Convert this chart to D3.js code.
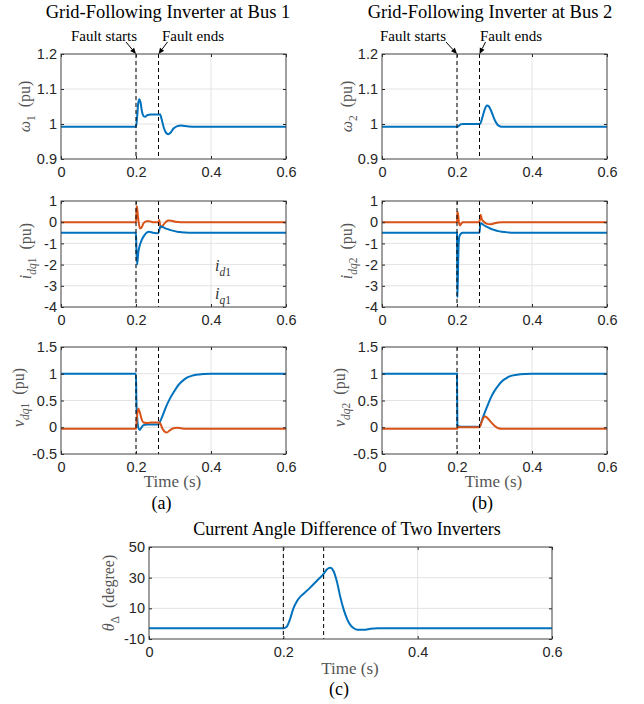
<!DOCTYPE html>
<html><head><meta charset="utf-8">
<script src="https://cdn.jsdelivr.net/npm/d3@7"></script>
<style>body{margin:0;background:#fff}</style>
</head><body>
<script>
// ---- time axis and fault instants ----
const timeTicks = [0, 0.2, 0.4, 0.6];
const faultStart = 0.2;
const faultEnd = 0.26;

// ---- y tick values ----
const omegaTicks = [0.9, 1, 1.1, 1.2];
const currentTicks = [-4, -3, -2, -1, 0, 1];
const voltageTicks = [-0.5, 0, 0.5, 1, 1.5];
const angleTicks = [-10, 10, 30, 50];

// ---- series: [time (s), value] ----
const omega1 = [[0,0.992],[0.2,0.992],[0.203,1.02],[0.206,1.06],[0.209,1.071],[0.212,1.062],[0.216,1.035],[0.22,1.023],[0.225,1.021],[0.23,1.025],[0.24,1.027],[0.25,1.027],[0.26,1.027],[0.264,1.028],[0.268,1.015],[0.274,0.99],[0.28,0.975],[0.286,0.971],[0.292,0.975],[0.3,0.987],[0.31,0.994],[0.32,0.996],[0.33,0.994],[0.35,0.992],[0.6,0.992]];
const omega2 = [[0,0.992],[0.2,0.992],[0.205,0.995],[0.21,0.999],[0.215,1.0],[0.26,1.0],[0.263,1.003],[0.268,1.02],[0.274,1.042],[0.28,1.053],[0.285,1.05],[0.29,1.04],[0.3,1.013],[0.31,0.996],[0.32,0.992],[0.6,0.992]];

const id1 = [[0,-0.5],[0.2,-0.5],[0.201,-1.2],[0.203,-2.0],[0.206,-1.45],[0.21,-1.1],[0.215,-0.85],[0.22,-0.68],[0.228,-0.5],[0.235,-0.45],[0.245,-0.5],[0.255,-0.52],[0.26,-0.5],[0.265,-0.2],[0.27,-0.22],[0.28,-0.3],[0.29,-0.36],[0.3,-0.41],[0.31,-0.45],[0.32,-0.47],[0.34,-0.495],[0.36,-0.5],[0.6,-0.5]];
const iq1 = [[0,0],[0.2,0],[0.201,0.4],[0.202,0.75],[0.204,0.5],[0.207,0],[0.211,-0.3],[0.215,-0.25],[0.22,-0.05],[0.228,0.05],[0.235,0.05],[0.245,0.0],[0.26,0.0],[0.262,0.1],[0.264,-0.1],[0.267,-0.25],[0.272,-0.15],[0.28,0.02],[0.287,0.08],[0.295,0.07],[0.305,0.02],[0.32,0],[0.6,0]];
const id2 = [[0,-0.5],[0.2,-0.5],[0.2005,-2.0],[0.201,-3.55],[0.2025,-2.5],[0.204,-1.2],[0.206,-0.7],[0.21,-0.55],[0.215,-0.5],[0.26,-0.5],[0.262,-0.1],[0.264,-0.05],[0.27,-0.12],[0.28,-0.22],[0.29,-0.31],[0.3,-0.37],[0.31,-0.42],[0.32,-0.45],[0.335,-0.48],[0.35,-0.5],[0.6,-0.5]];
const iq2 = [[0,0],[0.2,0],[0.2005,0.2],[0.201,0.48],[0.203,0.35],[0.205,0],[0.208,-0.15],[0.212,-0.05],[0.216,0],[0.26,0],[0.261,0.15],[0.263,0.35],[0.266,0.15],[0.27,0.05],[0.28,-0.08],[0.288,-0.1],[0.3,-0.05],[0.31,-0.01],[0.32,0],[0.6,0]];

const vd1 = [[0,1],[0.2,1],[0.201,0.5],[0.203,0.2],[0.206,0.0],[0.21,-0.05],[0.215,0.0],[0.22,0.04],[0.23,0.05],[0.26,0.05],[0.265,0.12],[0.27,0.2],[0.28,0.38],[0.29,0.53],[0.3,0.65],[0.31,0.76],[0.32,0.84],[0.33,0.9],[0.34,0.94],[0.35,0.965],[0.36,0.98],[0.38,0.995],[0.4,1.0],[0.6,1.0]];
const vq1 = [[0,-0.03],[0.2,-0.03],[0.202,0.15],[0.206,0.35],[0.21,0.28],[0.215,0.15],[0.22,0.09],[0.23,0.08],[0.24,0.09],[0.26,0.09],[0.264,0.08],[0.27,-0.02],[0.276,-0.08],[0.282,-0.1],[0.29,-0.06],[0.3,-0.02],[0.31,-0.01],[0.32,-0.02],[0.33,-0.03],[0.6,-0.03]];
const vd2 = [[0,1],[0.2,1],[0.2005,0.5],[0.201,0.05],[0.203,0.02],[0.21,0.01],[0.26,0.01],[0.265,0.1],[0.27,0.2],[0.28,0.38],[0.29,0.55],[0.3,0.68],[0.31,0.78],[0.32,0.86],[0.33,0.91],[0.34,0.95],[0.36,0.98],[0.38,0.995],[0.4,1.0],[0.6,1.0]];
const vq2 = [[0,-0.03],[0.2,-0.03],[0.203,0.0],[0.26,0.0],[0.265,0.08],[0.27,0.17],[0.275,0.2],[0.28,0.18],[0.29,0.1],[0.3,0.03],[0.31,-0.02],[0.32,-0.03],[0.6,-0.03]];

const thetaDelta = [[0,-3],[0.2,-3],[0.205,-2],[0.21,3],[0.215,10],[0.22,14.5],[0.225,17.5],[0.23,19.5],[0.24,23.5],[0.25,28],[0.26,32.5],[0.265,35.5],[0.27,36.5],[0.275,34],[0.28,27],[0.285,17],[0.29,9],[0.295,3],[0.3,-1],[0.305,-3],[0.31,-4],[0.32,-4],[0.33,-3.3],[0.34,-3],[0.6,-3]];

// ---- styling ----
const BLUE = "#0072BD", ORANGE = "#D95319";
const SANS = "'Liberation Sans', Arial, sans-serif";
const SERIF = "'Liberation Serif', 'Times New Roman', serif";

const W = 644, H = 704;
const svg = d3.select("body").append("svg").attr("width", W).attr("height", H)
  .style("background", "#fff");

let clipId = 0;

// rich label: parts with italic / subscript flags
function richText(sel, parts, size) {
  let shift = 0;
  parts.forEach(p => {
    const target = p.sub ? size * 0.3 : 0;
    const ts = sel.append("tspan").text(p.t).attr("dy", target - shift);
    shift = target;
    if (p.italic) ts.attr("font-style", "italic");
    if (p.sub) ts.attr("font-size", (size * 0.72) + "px");
  });
}

function drawPanel(cfg) {
  const x = d3.scaleLinear().domain([0, 0.6]).range([cfg.x0, cfg.x1]);
  const y = d3.scaleLinear().domain(cfg.yDomain).range([cfg.y1, cfg.y0]);
  const g = svg.append("g");

  // grid
  g.append("g").selectAll("line.vg").data(timeTicks.slice(1, -1)).join("line")
    .attr("x1", d => x(d)).attr("x2", d => x(d)).attr("y1", cfg.y0).attr("y2", cfg.y1)
    .attr("stroke", "#e3e3e3").attr("stroke-width", 1);
  g.append("g").selectAll("line.hg").data(cfg.yTicks.slice(1, -1)).join("line")
    .attr("y1", d => y(d)).attr("y2", d => y(d)).attr("x1", cfg.x0).attr("x2", cfg.x1)
    .attr("stroke", "#e3e3e3").attr("stroke-width", 1);

  // curves
  const id = "clip" + (clipId++);
  g.append("clipPath").attr("id", id).append("rect")
    .attr("x", cfg.x0).attr("y", cfg.y0).attr("width", cfg.x1 - cfg.x0).attr("height", cfg.y1 - cfg.y0);
  const line = d3.line().x(d => x(d[0])).y(d => y(d[1])).curve(d3.curveMonotoneX);
  cfg.series.forEach(s => {
    g.append("path").datum(s.data).attr("d", line).attr("fill", "none")
      .attr("stroke", s.color).attr("stroke-width", 2).attr("clip-path", `url(#${id})`);
  });

  // fault instants
  g.selectAll("line.fault").data([faultStart, faultEnd]).join("line")
    .attr("x1", d => x(d)).attr("x2", d => x(d)).attr("y1", cfg.y0).attr("y2", cfg.y1)
    .attr("stroke", "#000").attr("stroke-width", 1).attr("stroke-dasharray", "4,3");

  // axes (inward ticks, mirrored on top/right)
  const fmt = d => String(d);
  const axStyle = a => {
    a.selectAll("path").remove();
    a.selectAll("line").attr("stroke", "#262626");
    a.selectAll("text").attr("font-family", SANS).attr("font-size", "14.5px").attr("fill", "#262626");
  };
  g.append("g").attr("transform", `translate(0,${cfg.y1})`)
    .call(d3.axisBottom(x).tickValues(timeTicks).tickFormat(fmt).tickSizeInner(-3).tickSizeOuter(0).tickPadding(8))
    .call(axStyle);
  g.append("g").attr("transform", `translate(0,${cfg.y0})`)
    .call(d3.axisTop(x).tickValues(timeTicks).tickFormat("").tickSizeInner(-3).tickSizeOuter(0))
    .call(axStyle);
  g.append("g").attr("transform", `translate(${cfg.x0},0)`)
    .call(d3.axisLeft(y).tickValues(cfg.yTicks).tickFormat(fmt).tickSizeInner(-3).tickSizeOuter(0).tickPadding(4))
    .call(axStyle);
  g.append("g").attr("transform", `translate(${cfg.x1},0)`)
    .call(d3.axisRight(y).tickValues(cfg.yTicks).tickFormat("").tickSizeInner(-3).tickSizeOuter(0))
    .call(axStyle);
  g.append("rect").attr("x", cfg.x0).attr("y", cfg.y0)
    .attr("width", cfg.x1 - cfg.x0).attr("height", cfg.y1 - cfg.y0)
    .attr("fill", "none").attr("stroke", "#404040").attr("stroke-width", 1);

  // y label
  const lab = g.append("text")
    .attr("transform", `translate(${cfg.labelX},${(cfg.y0 + cfg.y1) / 2 + (cfg.labelDy || 0)}) rotate(-90)`)
    .attr("text-anchor", "middle").attr("font-family", SERIF).attr("font-size", "16px")
    .attr("fill", "#555");
  richText(lab, cfg.ylabel, 16);

  return { x, y, g };
}

function arrow(x1, y1, x2, y2) {
  const ang = Math.atan2(y2 - y1, x2 - x1);
  const L = 6, Wd = 2.6;
  const bx = x2 - L * Math.cos(ang), by = y2 - L * Math.sin(ang);
  svg.append("line").attr("x1", x1).attr("y1", y1).attr("x2", bx).attr("y2", by)
    .attr("stroke", "#000").attr("stroke-width", 1);
  const px = -Math.sin(ang) * Wd, py = Math.cos(ang) * Wd;
  svg.append("path")
    .attr("d", `M${x2},${y2}L${bx + px},${by + py}L${bx - px},${by - py}Z`).attr("fill", "#000");
}

function serifText(x, y, str, size, anchor, color) {
  return svg.append("text").attr("x", x).attr("y", y).attr("text-anchor", anchor || "middle")
    .attr("font-family", SERIF).attr("font-size", size + "px").attr("fill", color || "#000").text(str);
}

const cols = [
  { x0: 61, x1: 286, n: "1", title: "Grid-Following Inverter at Bus 1", titleX: 168, tag: "(a)",
    w: omega1, id: id1, iq: iq1, vd: vd1, vq: vq1, lab1: 30, lab2: 31, lab3: 24,
    startText: 104, endText: 193, startDx: -10, endDx: 9 },
  { x0: 382, x1: 607, n: "2", title: "Grid-Following Inverter at Bus 2", titleX: 490, tag: "(b)",
    w: omega2, id: id2, iq: iq2, vd: vd2, vq: vq2, lab1: 352, lab2: 352, lab3: 345,
    startText: 413, endText: 511, startDx: -11, endDx: 6 }
];

cols.forEach(c => {
  serifText(c.titleX, 18, c.title, 18.5);

  const p1 = drawPanel({ x0: c.x0, x1: c.x1, y0: 54, y1: 159, yDomain: [0.9, 1.2], yTicks: omegaTicks,
    series: [{ data: c.w, color: BLUE }], labelX: c.lab1,
    ylabel: [{ t: "ω", italic: true }, { t: c.n, sub: true }, { t: "\u2002(pu)" }] });

  // fault annotations
  serifText(c.startText, 41, "Fault starts", 15);
  serifText(c.endText, 41, "Fault ends", 15);
  const xs = p1.x(faultStart), xe = p1.x(faultEnd);
  arrow(xs + c.startDx, 42, xs, 54);
  arrow(xe + c.endDx, 42, xe, 54);

  drawPanel({ x0: c.x0, x1: c.x1, y0: 201, y1: 307, yDomain: [-4, 1], yTicks: currentTicks,
    series: [{ data: c.iq, color: ORANGE }, { data: c.id, color: BLUE }], labelX: c.lab2, labelDy: -3,
    ylabel: [{ t: "i", italic: true }, { t: "dq", sub: true, italic: true }, { t: c.n, sub: true }, { t: "\u2002(pu)" }] });

  drawPanel({ x0: c.x0, x1: c.x1, y0: 347, y1: 454, yDomain: [-0.5, 1.5], yTicks: voltageTicks,
    series: [{ data: c.vd, color: BLUE }, { data: c.vq, color: ORANGE }], labelX: c.lab3, labelDy: -3,
    ylabel: [{ t: "v", italic: true }, { t: "dq", sub: true, italic: true }, { t: c.n, sub: true }, { t: "\u2002(pu)" }] });

  serifText((c.x0 + c.x1) / 2 - 1, 487, "Time (s)", 17, "middle", "#555");
  serifText((c.x0 + c.x1) / 2 - 12, 509, c.tag, 18);

  // legend entries without markers (bus 1 only)
  if (c.n === "1") {
    const l1 = svg.append("text").attr("x", 215).attr("y", 271).attr("font-family", SERIF)
      .attr("font-size", "16px").attr("fill", "#333");
    richText(l1, [{ t: "i", italic: true }, { t: "d", sub: true, italic: true }, { t: "1", sub: true }], 16);
    const l2 = svg.append("text").attr("x", 215).attr("y", 299).attr("font-family", SERIF)
      .attr("font-size", "16px").attr("fill", "#333");
    richText(l2, [{ t: "i", italic: true }, { t: "q", sub: true, italic: true }, { t: "1", sub: true }], 16);
  }
});

// ---- panel (c) ----
serifText(347, 535, "Current Angle Difference of Two Inverters", 18);
drawPanel({ x0: 149, x1: 552, y0: 547, y1: 639, yDomain: [-10, 50], yTicks: angleTicks,
  series: [{ data: thetaDelta, color: BLUE }], labelX: 114,
  ylabel: [{ t: "θ", italic: true }, { t: "Δ", sub: true }, { t: "\u2002(degree)" }] });
serifText(350, 674, "Time (s)", 17, "middle", "#555");
serifText(339, 695, "(c)", 18);
</script>
</body></html>
